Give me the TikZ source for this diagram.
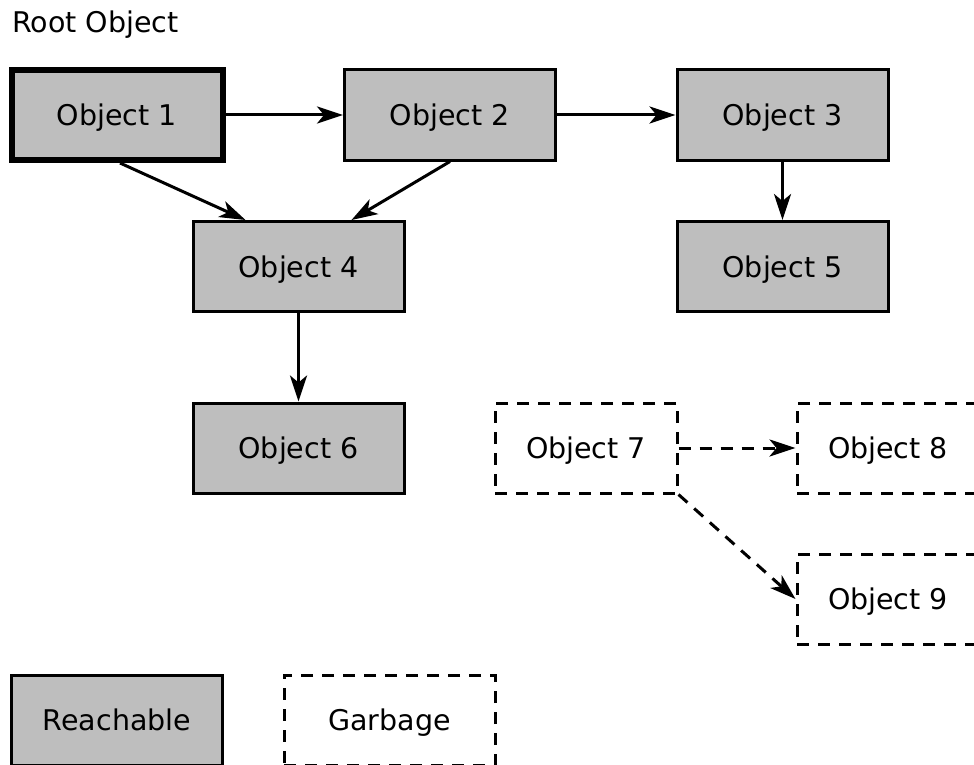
\documentclass[tikz,border=0pt]{standalone}
\usepackage{fontspec}
\setmainfont{DejaVu Sans}
\usetikzlibrary{arrows.meta}
\definecolor{objfill}{RGB}{190,190,190}
\tikzset{
  label font/.style={font=\fontsize{28.5}{34}\selectfont},
  obj/.style={draw, line width=3pt, fill=objfill, minimum width=211pt, minimum height=90pt,
    inner sep=0pt, text depth=0pt, label font},
  rootobj/.style={obj, line width=6pt},
  garb/.style={draw, line width=3pt, dash pattern=on 12pt off 9pt, minimum width=182pt,
    minimum height=90pt, inner sep=0pt, text depth=0pt, label font},
  ref/.style={line width=3pt, -{Stealth[length=26pt,width=17pt,inset=7pt]}},
  deadref/.style={ref, dash pattern=on 12pt off 9pt}
}
\begin{document}
\begin{tikzpicture}[x=1pt,y=-1pt]
  \useasboundingbox (0,0) rectangle (974,765);
  \clip (0,0) rectangle (974,765);

  \node[anchor=base west, inner sep=0pt, label font] (root) at (12,33) {Root Object};

  % live objects
  \node[rootobj] (o1) at (117,115) {Object 1};
  \node[obj] (o2) at (450,115) {Object 2};
  \node[obj] (o3) at (782.5,115) {Object 3};
  \node[obj] (o4) at (298.5,266.5) {Object 4};
  \node[obj] (o5) at (782.5,266.5) {Object 5};
  \node[obj] (o6) at (298.5,448) {Object 6};

  % unreachable objects
  \node[garb] (o7) at (586,448) {Object 7};
  \node[garb] (o8) at (888,448) {Object 8};
  \node[garb] (o9) at (888,599) {Object 9};

  % legend
  \node[obj] (lreach) at (117,720) {Reachable};
  \node[garb, minimum width=211pt] (lgarb) at (389.5,720) {Garbage};

  % references
  \draw[ref] (o1.east) -- (o2.west);
  \draw[ref] (o2.east) -- (o3.west);
  \draw[ref] ([xshift=3pt]o1.south) -- ([xshift=-53pt]o4.north);
  \draw[ref] (o2.south) -- ([xshift=53pt]o4.north);
  \draw[ref] (o3.south) -- (o5.north);
  \draw[ref] (o4.south) -- (o6.north);
  \draw[deadref] (o7.east) -- (o8.west);
  \draw[deadref] (o7.south east) -- (o9.west);
\end{tikzpicture}
\end{document}
